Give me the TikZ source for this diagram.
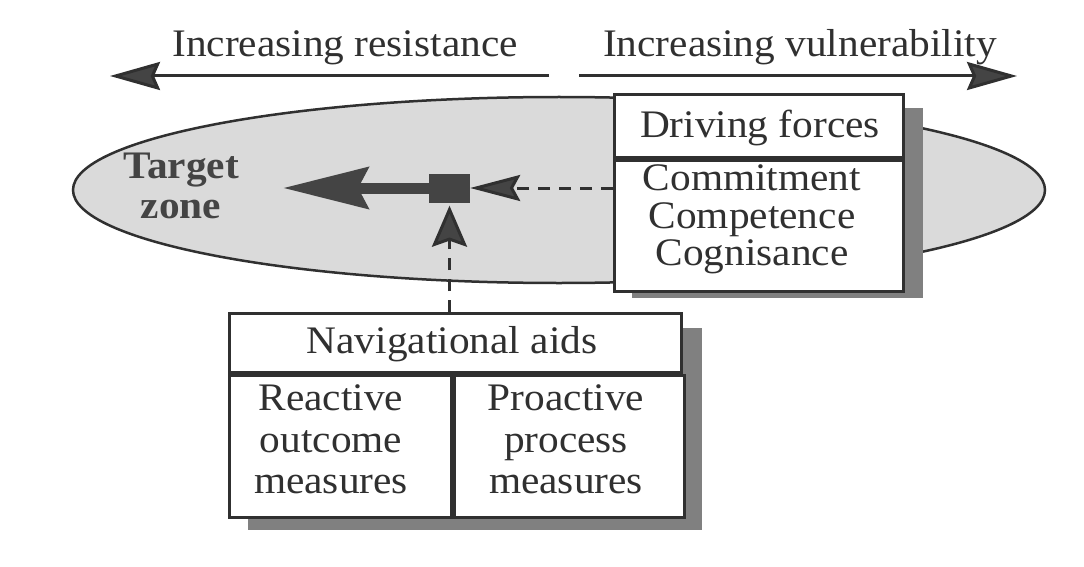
\documentclass[tikz,border=0pt]{standalone}
\usepackage{fontspec}
\setmainfont{Liberation Serif}[FakeStretch=1.06]
\usetikzlibrary{arrows.meta,shapes.geometric}
\definecolor{ink}{HTML}{303030}
\definecolor{zonefill}{HTML}{DADADA}
\definecolor{shadowgray}{HTML}{808080}
\definecolor{darkfill}{HTML}{444444}
\tikzset{
  lbl/.style={font=\fontsize{39}{42}\selectfont, text=ink, inner sep=0pt, anchor=base},
  boldlbl/.style={lbl, font=\fontsize{39}{42}\selectfont\bfseries, text=darkfill},
  panel/.style={draw=ink, line width=3pt, fill=white, inner sep=0pt, anchor=north west},
  shadowbox/.style={fill=shadowgray},
  toparrow/.style={draw=ink, line width=3pt, -{Stealth[length=50pt, width=28pt, inset=6pt, fill=darkfill]}},
  bigarrow/.style={draw=darkfill, line width=11pt, -{Stealth[length=85pt, width=41pt, inset=10pt, fill=darkfill]}},
  dasharrow/.style={draw=ink, line width=3pt, dash pattern=on 12pt off 9pt, -{Stealth[length=50pt, width=26pt, inset=7pt, fill=darkfill]}},
  vdasharrow/.style={draw=ink, line width=3pt, dash pattern=on 12pt off 9pt, -{Stealth[length=41pt, width=35pt, inset=6pt, fill=darkfill]}}
}
\begin{document}
\begin{tikzpicture}[x=1pt, y=-1pt]
\useasboundingbox (0,0) rectangle (1084,567);
\fill[white] (0,0) rectangle (1084,567);

% top direction arrows
\node[lbl] (tres) at (345,57) {Increasing resistance};
\node[lbl] (tvul) at (800,57) {Increasing vulnerability};
\coordinate (lstart) at (549,76);
\coordinate (ltip) at (110,76);
\coordinate (rstart) at (579,76);
\coordinate (rtip) at (1017,76);
\draw[toparrow] (lstart) -- (ltip);
\draw[toparrow] (rstart) -- (rtip);

% target zone ellipse
\node[ellipse, draw=ink, line width=2.5pt, fill=zonefill, minimum width=972pt, minimum height=186pt, inner sep=0pt] (zone) at (559,190) {};
\node[boldlbl] (tz1) at (181,178) {Target};
\node[boldlbl] (tz2) at (181,218) {zone};

% driving forces box
\fill[shadowbox] (632,108) rectangle (923,298);
\node[panel, minimum width=289pt, minimum height=63pt] (dfh) at (613,93) {};
\node[panel, minimum width=289pt, minimum height=131pt] (dfb) at (dfh.south west) {};
\node[lbl] (df0) at (760,138) {Driving forces};
\node[lbl] (df1) at (752,190) {Commitment};
\node[lbl] (df2) at (752,228) {Competence};
\node[lbl] (df3) at (752,265) {Cognisance};

% navigational aids box
\fill[shadowbox] (248,328) rectangle (702,530);
\node[panel, minimum width=452pt, minimum height=59pt] (navh) at (228,312) {};
\node[panel, minimum width=222pt, minimum height=142pt] (navl) at (navh.south west) {};
\node[panel, minimum width=230pt, minimum height=142pt] (navr) at (navl.north east) {};
\node[lbl] (nv0) at (452,353) {Navigational aids};
\node[lbl] (nl1) at (331,410) {Reactive};
\node[lbl] (nl2) at (331,452) {outcome};
\node[lbl] (nl3) at (331,493) {measures};
\node[lbl] (nr1) at (566,410) {Proactive};
\node[lbl] (nr2) at (566,452) {process};
\node[lbl] (nr3) at (566,493) {measures};

% central mechanism
\node[fill=darkfill, minimum width=41pt, minimum height=29pt, inner sep=0pt] (sq) at (449.5,188) {};
\coordinate (goal) at (283,188);
\draw[bigarrow] (sq.west) -- (goal);
\draw[dasharrow] (sq -| dfb.west) -- (sq.east);
\draw[vdasharrow] (sq |- navh.north) -- ([yshift=-3pt]sq.south);
\end{tikzpicture}
\end{document}
